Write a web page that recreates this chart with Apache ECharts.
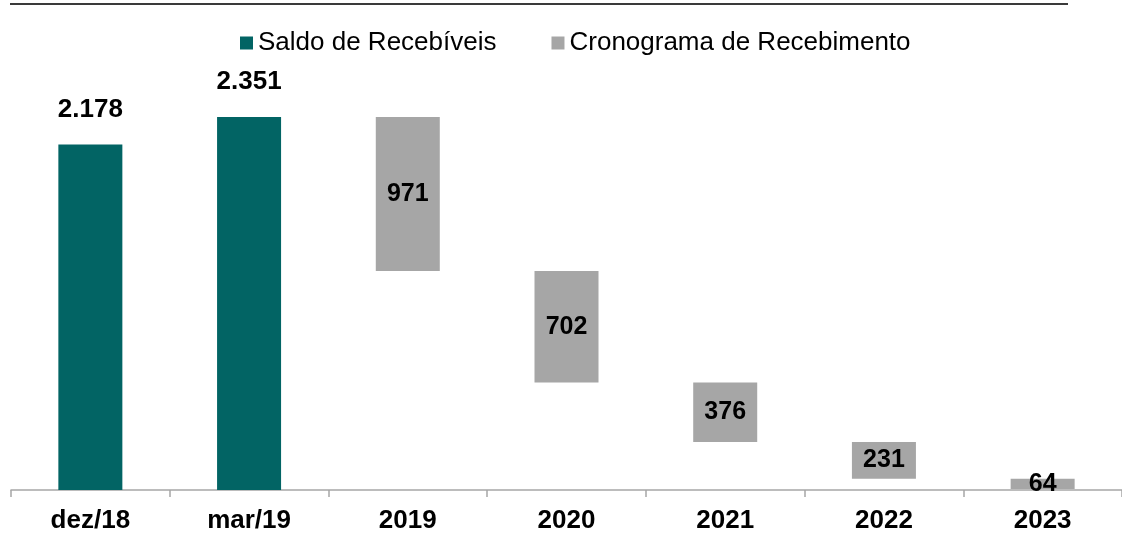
<!DOCTYPE html>
<html>
<head>
<meta charset="utf-8">
<script src="https://cdn.jsdelivr.net/npm/echarts@6/dist/echarts.min.js"></script>
<style>
html,body{margin:0;padding:0;background:#fff;}
#chart{width:1122px;height:534px;}
</style>
</head>
<body>
<div id="chart"></div>
<script>
const categories = ['dez/18', 'mar/19', '2019', '2020', '2021', '2022', '2023'];
const saldo = [2178, 2351, null, null, null, null, null];
const cronograma = [null, null, 971, 702, 376, 231, 64];

// floating base for the schedule bars: remaining balance after each year
const base = [];
let remaining = saldo[1];
for (let i = 0; i < categories.length; i++) {
  if (cronograma[i] == null) { base.push('-'); continue; }
  remaining -= cronograma[i];
  base.push(remaining);
}

const fmt = v => v.toLocaleString('pt-BR');
const chart = echarts.init(document.getElementById('chart'));
chart.setOption({
  animation: false,
  textStyle: { fontFamily: 'Liberation Sans, Arial, sans-serif' },
  graphic: [{
    type: 'line',
    shape: { x1: 10, y1: 4, x2: 1068, y2: 4 },
    style: { stroke: '#3a3a3a', lineWidth: 2 }
  }],
  legend: {
    left: 235, top: 25,
    itemWidth: 13, itemHeight: 13, itemGap: 55,
    icon: 'rect',
    data: ['Saldo de Recebíveis', 'Cronograma de Recebimento'],
    textStyle: { fontSize: 26, color: '#000', fontFamily: 'Liberation Sans, Arial, sans-serif' }
  },
  grid: { left: 11, right: -4, top: 93.4, bottom: 44, containLabel: false },
  xAxis: {
    type: 'category',
    data: categories,
    axisLine: { lineStyle: { color: '#a6a6a6', width: 1.5 } },
    axisTick: { show: true, length: 7, lineStyle: { color: '#a6a6a6', width: 1.5 } },
    axisLabel: { fontSize: 26, fontWeight: 'bold', color: '#000', margin: 18 }
  },
  yAxis: {
    type: 'value', min: 0, max: 2500, show: false,
    splitLine: { show: false }
  },
  series: [
    {
      name: 'Saldo de Recebíveis', type: 'bar', stack: 'w', barWidth: 64,
      data: saldo.map(v => v == null ? '-' : v),
      itemStyle: { color: '#026464' },
      label: { show: true, position: 'top', distance: 22, fontSize: 26, fontWeight: 'bold', color: '#000',
        formatter: p => fmt(p.value) }
    },
    {
      name: 'base', type: 'bar', stack: 'w', barWidth: 64,
      data: base,
      itemStyle: { color: 'transparent' },
      emphasis: { disabled: true },
      silent: true
    },
    {
      name: 'Cronograma de Recebimento', type: 'bar', stack: 'w', barWidth: 64,
      data: cronograma.map(v => v == null ? '-' : v),
      itemStyle: { color: '#a6a6a6' },
      label: { show: true, position: 'inside', fontSize: 25, fontWeight: 'bold', color: '#000',
        formatter: p => fmt(p.value) }
    }
  ]
});
</script>
</body>
</html>
